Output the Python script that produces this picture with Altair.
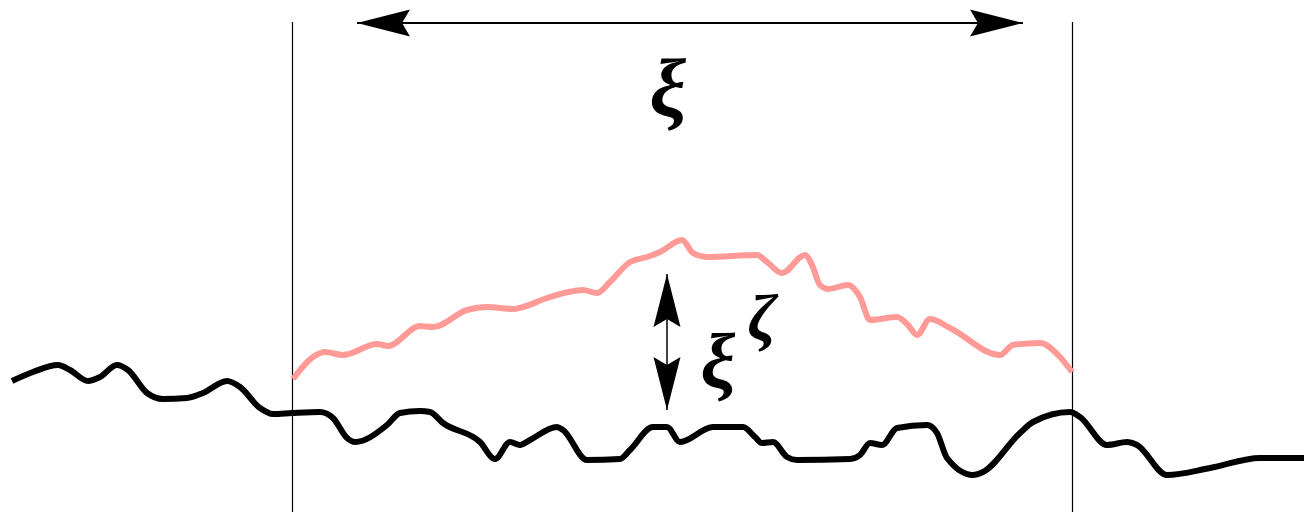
import altair as alt
import pandas as pd

W, H = 1296, 504
X0, Y0 = 8, 8

ground_x = [12, 33, 58, 70, 88, 100, 117, 128, 147, 163, 187, 203, 227, 240, 260, 273, 292, 320,
            333, 347, 355, 387, 400, 420, 430, 443, 480, 495, 510, 520, 530, 557, 563, 587, 620,
            630, 653, 667, 680, 713, 743, 755, 762, 773, 787, 797, 850, 860, 870, 882, 897, 927,
            937, 947, 973, 983, 1020, 1033, 1070, 1080, 1107, 1127, 1137, 1167, 1210, 1260, 1312]
ground_y = [381, 372, 365, 370, 381, 377, 365, 370, 393, 399, 398, 393, 381, 387, 408, 414, 413, 412,
            418, 438, 442, 425, 413, 411, 412, 423, 442, 459, 442, 445, 440, 427, 430, 460, 459,
            450, 427, 427, 442, 427, 427, 437, 443, 442, 457, 460, 459, 455, 443, 445, 428, 425,
            433, 458, 475, 472, 433, 422, 412, 417, 445, 442, 445, 475, 468, 458, 458]

crest_x = [293, 313, 325, 343, 377, 388, 420, 433, 467, 487, 513, 523, 547, 583, 597, 610, 630, 647,
           660, 682, 693, 707, 757, 767, 782, 805, 812, 820, 828, 848, 860, 870, 897, 908, 917, 930,
           950, 1000, 1013, 1040, 1060, 1072]
crest_y = [379, 357, 352, 355, 344, 346, 326, 327, 310, 307, 309, 307, 298, 290, 293, 282, 262, 257,
           252, 240, 253, 257, 255, 262, 273, 255, 265, 285, 289, 285, 297, 320, 317, 325, 335, 319,
           328, 355, 345, 343, 357, 372]

bound_x = [292.5, 1072.5]
bound_top = [22, 22]
bound_bottom = [520, 520]

span_x = [357, 1023]
span_y = [23, 23]
gap_x = [667, 667]
gap_y = [274, 410]

head_x = [357, 1023, 667, 667]
head_y = [23, 23, 274, 410]
head_angle = [270, 90, 0, 180]

label_text = ["ξ", "ξ", "ζ"]
label_x = [668, 718, 762]
label_y = [116, 387, 340]
label_size = [82, 78, 66]

xs = alt.Scale(domain=[X0, X0 + W], nice=False, zero=False)
ys = alt.Scale(domain=[Y0, Y0 + H], reverse=True, nice=False, zero=False)

ground = pd.DataFrame({"x": ground_x, "y": ground_y})
crest = pd.DataFrame({"x": crest_x, "y": crest_y})
bounds = pd.DataFrame({"x": bound_x, "y": bound_top, "y2": bound_bottom})
span = pd.DataFrame({"x": [span_x[0]], "x2": [span_x[1]], "y": [span_y[0]]})
gap = pd.DataFrame({"x": [gap_x[0]], "y": [gap_y[0]], "y2": [gap_y[1]]})
heads = pd.DataFrame({"x": head_x, "y": head_y, "a": head_angle})
labels = pd.DataFrame({"t": label_text, "x": label_x, "y": label_y, "s": label_size})

X = lambda f: alt.X(f, type="quantitative", scale=xs, axis=None)
Y = lambda f: alt.Y(f, type="quantitative", scale=ys, axis=None)

ground_line = alt.Chart(ground).mark_line(
    interpolate="monotone", color="black", strokeWidth=6, strokeCap="butt", strokeJoin="round"
).encode(x=X("x"), y=Y("y"))

crest_line = alt.Chart(crest).mark_line(
    interpolate="monotone", color="#ff9a96", strokeWidth=6, strokeCap="butt", strokeJoin="round"
).encode(x=X("x"), y=Y("y"))

bound_rules = alt.Chart(bounds).mark_rule(color="black", strokeWidth=1.2).encode(
    x=X("x"), y=Y("y"), y2="y2"
)

span_rule = alt.Chart(span).mark_rule(color="black", strokeWidth=2).encode(
    x=X("x"), x2="x2", y=Y("y")
)

gap_rule = alt.Chart(gap).mark_rule(color="black", strokeWidth=1.5).encode(
    x=X("x"), y=Y("y"), y2="y2"
)

arrow_path = "M0,0 L0.51,2 L0,1.7 L-0.51,2 Z"
arrow_heads = alt.Chart(heads).mark_point(
    shape=arrow_path, filled=True, size=2809, color="black", opacity=1, strokeWidth=0
).encode(x=X("x"), y=Y("y"), angle=alt.Angle("a", type="quantitative", scale=None))

text = alt.Chart(labels).mark_text(
    font="Liberation Serif", fontStyle="italic", fontWeight="bold",
    align="center", baseline="alphabetic", color="black"
).encode(
    x=X("x"), y=Y("y"), text="t",
    size=alt.Size("s", type="quantitative", scale=None, legend=None),
)

chart = alt.layer(
    bound_rules, crest_line, ground_line, span_rule, gap_rule, arrow_heads, text
).properties(
    width=W, height=H, padding=0, autosize=alt.AutoSizeParams(type="none")
).configure_view(strokeWidth=0)

chart.save("out.html", embed_options={"renderer": "svg", "actions": False})
